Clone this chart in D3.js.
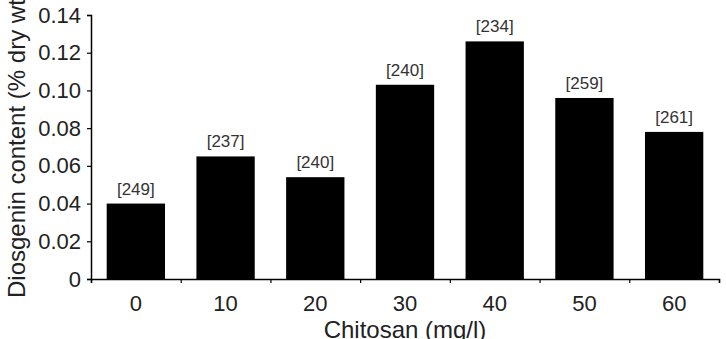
<!DOCTYPE html>
<html>
<head>
<meta charset="utf-8">
<script src="https://cdn.jsdelivr.net/npm/d3@7"></script>
<style>
  body { margin: 0; background: #fff; }
  svg { display: block; }
  text { font-family: "Liberation Sans", Arial, sans-serif; fill: #222; }
</style>
</head>
<body>
<svg width="726" height="339"></svg>
<script>
// chitosan dose (mg/l) and diosgenin content (% dry wt)
var doses = ["0", "10", "20", "30", "40", "50", "60"];
var content = [0.040, 0.065, 0.054, 0.103, 0.126, 0.096, 0.078];
var counts = ["[249]", "[237]", "[240]", "[240]", "[234]", "[259]", "[261]"];
var yTicks = [0, 0.02, 0.04, 0.06, 0.08, 0.10, 0.12, 0.14];

var svg = d3.select("svg");
var plotL = 91, plotR = 719, plotT = 15, plotB = 279;

var x = d3.scaleBand().domain(doses).range([plotL, plotR])
    .paddingInner(0.35).paddingOuter(0.175);
var y = d3.scaleLinear().domain([0, 0.14]).range([plotB, plotT]);

// bars
svg.selectAll("rect.bar").data(content).enter().append("rect")
  .attr("class", "bar")
  .attr("x", function(d, i) { return x(doses[i]); })
  .attr("y", function(d) { return y(d); })
  .attr("width", x.bandwidth())
  .attr("height", function(d) { return y(0) - y(d); })
  .attr("fill", "#000");

// n labels above the bars
svg.selectAll("text.n").data(content).enter().append("text")
  .attr("class", "n")
  .attr("x", function(d, i) { return x(doses[i]) + x.bandwidth() / 2; })
  .attr("y", function(d) { return y(d) - 9; })
  .attr("text-anchor", "middle")
  .style("font-size", "17px")
  .style("fill", "#333")
  .text(function(d, i) { return counts[i]; });

// y axis
var yAxis = d3.axisLeft(y).tickValues(yTicks).tickSize(4).tickPadding(6)
  .tickFormat(function(d) { return d === 0 ? "0" : d3.format(".2f")(d); });
var gy = svg.append("g").attr("transform", "translate(" + plotL + ",0)").call(yAxis);
gy.select(".domain").attr("stroke-width", 1.5);
gy.selectAll(".tick line").attr("stroke-width", 1.2);
gy.selectAll(".tick text").style("font-size", "22px").attr("fill", "#222");

// x axis: tick marks on band edges, labels at band centres
var edges = d3.scaleLinear().domain([0, doses.length]).range([plotL, plotR]);
var gx = svg.append("g").attr("transform", "translate(0," + plotB + ")")
  .call(d3.axisBottom(edges).tickValues(d3.range(doses.length + 1)).tickSize(4).tickFormat(""));
gx.select(".domain").attr("stroke-width", 1.5);
gx.selectAll(".tick line").attr("stroke-width", 1.2);

var gxl = svg.append("g").attr("transform", "translate(0," + plotB + ")")
  .call(d3.axisBottom(x).tickSize(0).tickPadding(16));
gxl.select(".domain").remove();
gxl.selectAll(".tick text").style("font-size", "22px").attr("fill", "#222");

// axis titles
svg.append("text")
  .attr("x", (plotL + plotR) / 2).attr("y", 338)
  .attr("text-anchor", "middle")
  .style("font-size", "24px")
  .text("Chitosan (mg/l)");

svg.append("text")
  .attr("transform", "translate(25,298) rotate(-90)")
  .attr("text-anchor", "start")
  .style("font-size", "24px")
  .text("Diosgenin content (% dry wt)");
</script>
</body>
</html>
